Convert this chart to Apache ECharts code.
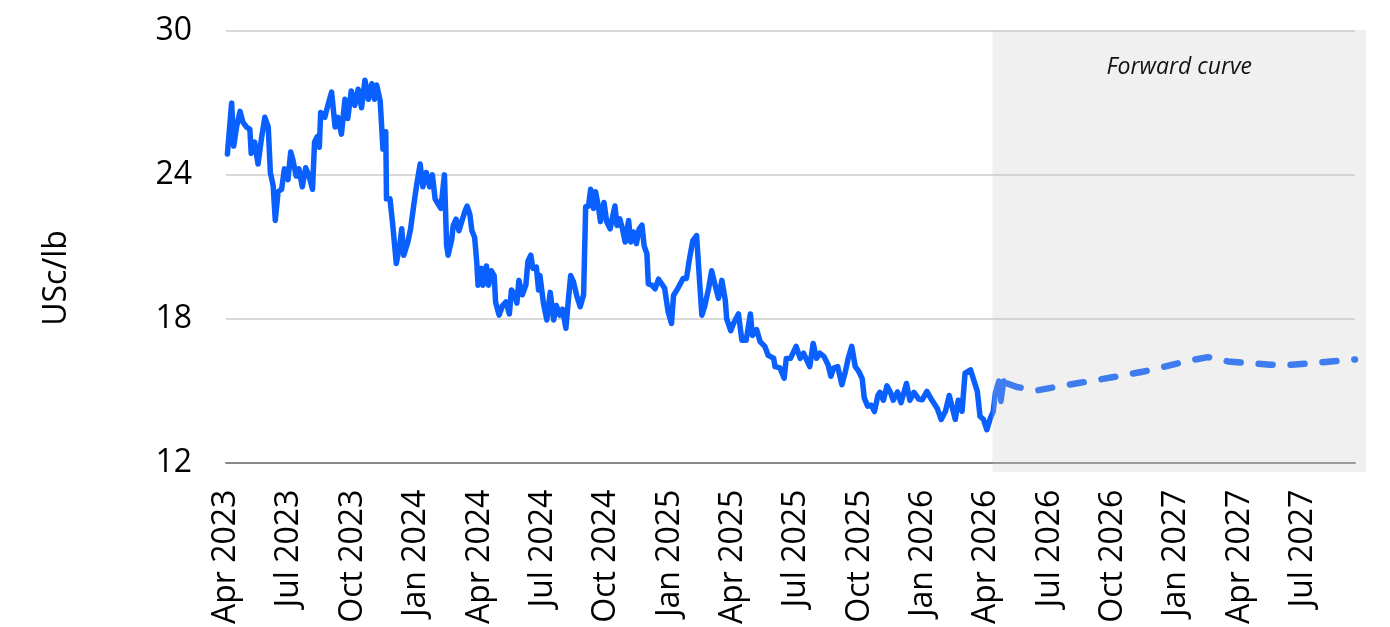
<!DOCTYPE html>
<html><head><meta charset="utf-8">
<script src="https://cdn.jsdelivr.net/npm/echarts@6/dist/echarts.min.js"></script>
<style>html,body{margin:0;padding:0;background:#fff}#c{width:1390px;height:627px}</style>
</head><body><div id="c"></div>
<script>
// ---- data ----
const tickLabels = ['Apr 2023','Jul 2023','Oct 2023','Jan 2024','Apr 2024','Jul 2024','Oct 2024','Jan 2025','Apr 2025','Jul 2025','Oct 2025','Jan 2026','Apr 2026','Jul 2026','Oct 2026','Jan 2027','Apr 2027','Jul 2027'];
const yTickMin = 12, yTickMax = 30, yTickStep = 6;
const axisStart = '2023-04-01', axisEnd = '2027-09-15';
const forwardStart = '2026-04-10';
const histDates = ['2023-04-03','2023-04-09','2023-04-12','2023-04-16','2023-04-21','2023-04-25','2023-04-30','2023-05-05','2023-05-07','2023-05-12','2023-05-17','2023-05-22','2023-05-27','2023-06-01','2023-06-04','2023-06-08','2023-06-11','2023-06-15','2023-06-20','2023-06-24','2023-06-29','2023-07-03','2023-07-06','2023-07-11','2023-07-15','2023-07-20','2023-07-25','2023-07-30','2023-08-04','2023-08-07','2023-08-11','2023-08-14','2023-08-16','2023-08-22','2023-08-27','2023-09-01','2023-09-06','2023-09-10','2023-09-15','2023-09-20','2023-09-24','2023-09-29','2023-10-04','2023-10-09','2023-10-14','2023-10-19','2023-10-24','2023-10-29','2023-11-02','2023-11-05','2023-11-10','2023-11-14','2023-11-18','2023-11-19','2023-11-24','2023-11-28','2023-12-03','2023-12-08','2023-12-11','2023-12-14','2023-12-20','2023-12-24','2023-12-28','2024-01-02','2024-01-07','2024-01-11','2024-01-16','2024-01-21','2024-01-25','2024-01-29','2024-02-02','2024-02-06','2024-02-11','2024-02-14','2024-02-16','2024-02-21','2024-02-23','2024-02-27','2024-03-02','2024-03-06','2024-03-11','2024-03-14','2024-03-18','2024-03-21','2024-03-25','2024-03-28','2024-03-30','2024-04-04','2024-04-06','2024-04-11','2024-04-14','2024-04-18','2024-04-22','2024-04-24','2024-04-29','2024-05-04','2024-05-09','2024-05-14','2024-05-17','2024-05-22','2024-05-25','2024-05-28','2024-06-02','2024-06-07','2024-06-10','2024-06-14','2024-06-17','2024-06-22','2024-06-25','2024-06-27','2024-07-02','2024-07-07','2024-07-12','2024-07-17','2024-07-21','2024-07-26','2024-07-30','2024-08-04','2024-08-08','2024-08-11','2024-08-15','2024-08-20','2024-08-25','2024-08-30','2024-09-02','2024-09-06','2024-09-09','2024-09-13','2024-09-16','2024-09-20','2024-09-23','2024-09-28','2024-10-02','2024-10-07','2024-10-11','2024-10-14','2024-10-17','2024-10-21','2024-10-25','2024-10-29','2024-11-03','2024-11-06','2024-11-10','2024-11-14','2024-11-18','2024-11-22','2024-11-25','2024-11-29','2024-12-01','2024-12-06','2024-12-11','2024-12-16','2024-12-18','2024-12-25','2024-12-30','2025-01-04','2025-01-07','2025-01-14','2025-01-21','2025-01-26','2025-01-30','2025-02-04','2025-02-09','2025-02-13','2025-02-16','2025-02-20','2025-02-25','2025-03-01','2025-03-06','2025-03-11','2025-03-16','2025-03-21','2025-03-23','2025-03-29','2025-04-02','2025-04-09','2025-04-14','2025-04-20','2025-04-26','2025-04-29','2025-05-05','2025-05-10','2025-05-17','2025-05-22','2025-05-30','2025-06-01','2025-06-08','2025-06-14','2025-06-17','2025-06-23','2025-07-01','2025-07-07','2025-07-12','2025-07-21','2025-07-26','2025-07-31','2025-08-05','2025-08-11','2025-08-17','2025-08-21','2025-08-25','2025-08-31','2025-09-06','2025-09-11','2025-09-15','2025-09-20','2025-09-25','2025-09-30','2025-10-05','2025-10-08','2025-10-13','2025-10-18','2025-10-23','2025-10-28','2025-10-31','2025-11-05','2025-11-10','2025-11-15','2025-11-19','2025-11-25','2025-11-30','2025-12-08','2025-12-13','2025-12-19','2025-12-26','2025-12-31','2026-01-07','2026-01-14','2026-01-22','2026-01-28','2026-02-03','2026-02-08','2026-02-16','2026-02-20','2026-02-25','2026-03-01','2026-03-09','2026-03-16','2026-03-19','2026-03-23','2026-03-28','2026-04-02','2026-04-07','2026-04-11','2026-04-14','2026-04-19','2026-04-22','2026-04-26'];
const histValues = [24.87,27.0,25.2,26.0,26.65,26.2,26.0,25.9,24.9,25.37,24.45,25.5,26.4,26.0,24.1,23.55,22.1,23.3,23.4,24.25,23.8,24.95,24.65,23.95,24.25,23.5,24.3,23.95,23.4,25.37,25.6,25.15,26.6,26.4,26.95,27.45,26.0,26.4,25.7,27.15,26.35,27.5,26.9,27.57,26.8,27.95,27.15,27.8,27.15,27.75,27.1,25.08,25.8,23.0,23.0,21.88,20.3,21.05,21.75,20.65,21.2,21.75,22.6,23.6,24.45,23.5,24.1,23.5,24.0,23.0,22.8,22.6,24.0,21.05,20.65,21.3,21.88,22.15,21.67,22.05,22.5,22.7,22.35,21.67,21.4,20.4,19.4,20.1,19.4,20.2,19.4,20.0,19.8,18.7,18.15,18.55,18.7,18.2,19.2,19.0,18.65,19.6,19.0,19.4,20.4,20.65,20.1,20.15,19.2,19.8,18.65,17.95,19.1,17.95,18.55,18.15,18.4,17.6,18.9,19.8,19.55,18.95,18.5,19.0,22.67,22.7,23.4,22.6,23.3,22.7,22.05,22.85,22.03,21.75,22.31,22.7,21.89,22.17,21.75,21.2,22.1,21.2,21.62,21.13,21.75,21.9,21.05,20.7,19.45,19.4,19.25,19.65,19.7,19.27,18.3,17.8,18.97,19.3,19.68,19.68,20.43,21.26,21.47,19.55,18.15,18.55,19.27,20.0,19.4,18.85,19.6,18.77,18.0,17.5,17.8,18.2,17.1,17.1,18.2,17.3,17.55,17.05,16.85,16.47,16.35,16.0,15.95,15.52,16.34,16.35,16.85,16.35,16.56,16.0,16.97,16.35,16.56,16.42,16.07,15.6,15.94,16.0,15.25,15.8,16.35,16.85,16.0,15.8,15.5,14.7,14.35,14.4,14.13,14.8,14.93,14.6,15.2,14.93,14.6,14.95,14.5,15.3,14.6,14.93,14.65,14.62,14.97,14.62,14.27,13.8,14.14,14.8,13.8,14.6,14.14,15.73,15.87,15.24,14.97,13.93,13.8,13.37,13.86,14.13,14.9,15.4,14.55,15.4];
const fwdDates = ['2026-05-01','2026-05-15','2026-06-15','2026-07-15','2026-08-15','2026-09-15','2026-10-15','2026-11-15','2026-12-15','2027-01-15','2027-02-15','2027-03-15','2027-04-15','2027-05-15','2027-06-15','2027-07-15','2027-08-15','2027-09-15'];
const fwdValues = [15.3,15.15,15.02,15.18,15.33,15.48,15.63,15.8,16.0,16.22,16.4,16.22,16.15,16.08,16.08,16.15,16.23,16.3];

// ---- helpers ----
function monthIndex(s){
  const p = s.split('-').map(Number);
  const dim = new Date(p[0], p[1], 0).getDate();
  return (p[0]-2023)*12 + (p[1]-4) + (p[2]-1)/dim;
}
const FONT = 'Open Sans';
const BLUE = '#0a5fff';
const gridL = 226, gridR = 35, gridT = 31, gridB = 162;

const chart = echarts.init(document.getElementById('c'), null, {renderer:'canvas'});
chart.setOption({
  animation: false,
  backgroundColor: '#ffffff',
  grid: {left: gridL, right: gridR, top: gridT, bottom: gridB, containLabel: false},
  xAxis: {
    type: 'value',
    min: monthIndex(axisStart), max: monthIndex(axisEnd), interval: 3,
    axisLine: {show: true, lineStyle: {color: '#888888', width: 2}},
    axisTick: {show: false},
    splitLine: {show: false},
    axisLabel: {
      rotate: 90, margin: 27, fontSize: 32, fontFamily: FONT, color: '#000',
      showMaxLabel: false,
      formatter: function(v){
        const k = Math.round(v/3);
        if (Math.abs(v - k*3) > 1e-6 || k < 0 || k >= tickLabels.length) return '';
        return tickLabels[k];
      }
    }
  },
  yAxis: {
    type: 'value', min: yTickMin, max: yTickMax, interval: yTickStep,
    axisLine: {show: false}, axisTick: {show: false},
    splitLine: {show: true, lineStyle: {color: '#d9d9d9', width: 2}},
    axisLabel: {margin: 34, fontSize: 32, fontFamily: FONT, color: '#000'}
  },
  series: [
    {
      type: 'line', name: 'Spot', z: 2, showSymbol: false, silent: true,
      data: histDates.map((d,i) => [monthIndex(d), histValues[i]]),
      lineStyle: {color: BLUE, width: 5.5, join: 'round', cap: 'round'}
    },
    {
      type: 'line', name: 'Forward curve', z: 3, showSymbol: false, silent: true,
      data: fwdDates.map((d,i) => [monthIndex(d), fwdValues[i]]),
      lineStyle: {color: BLUE, width: 6.5, type: [14, 18], cap: 'round', join: 'round'}
    }
  ]
});

// shaded forward region overlay and texts
const x0 = chart.convertToPixel({xAxisIndex: 0}, monthIndex(forwardStart));
const W = chart.getWidth(), H = chart.getHeight();
const xRight = W - gridR + 11;
const yTop = gridT - 1;
const yBot = H - gridB + 7;
chart.setOption({
  graphic: [
    {type: 'rect', z: 100, silent: true,
     shape: {x: x0, y: yTop, width: xRight - x0, height: yBot - yTop},
     style: {fill: 'rgba(200,200,200,0.28)'}},
    {type: 'text', z: 101, silent: true, x: (x0 + xRight)/2, y: gridT + 36,
     style: {text: 'Forward curve', fontFamily: FONT, fontStyle: 'italic', fontSize: 23, fill: '#111', align: 'center', verticalAlign: 'middle'}},
    {type: 'text', z: 101, silent: true, x: 57, y: 278, rotation: Math.PI/2,
     style: {text: 'USc/lb', fontFamily: FONT, fontSize: 32, fill: '#000', align: 'center', verticalAlign: 'middle'}}
  ]
});
</script>
</body></html>
